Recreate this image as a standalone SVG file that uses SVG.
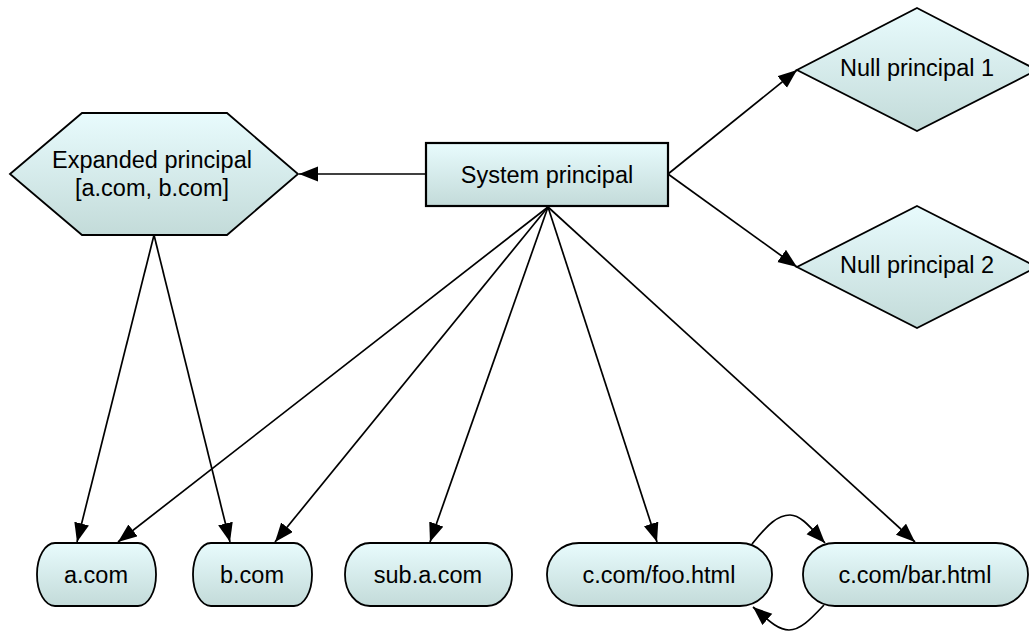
<svg xmlns="http://www.w3.org/2000/svg" width="1029" height="632" viewBox="0 0 1029 632">
<style>
.node{fill:url(#g);stroke:#000;stroke-width:1.8}
.lbl{font-family:"Liberation Sans",Arial,sans-serif;font-size:23.5px;fill:#000;text-anchor:middle}
.edge{fill:none;stroke:#000;stroke-width:1.7}
</style>
<defs>
<linearGradient id="g" x1="0" y1="0" x2="0" y2="1">
<stop offset="0" stop-color="#e8fbfd"/>
<stop offset="1" stop-color="#c3dbd9"/>
</linearGradient>
<marker id="ah" markerUnits="userSpaceOnUse" markerWidth="20" markerHeight="16" refX="19" refY="7.5" orient="auto">
<path d="M0,0 L19,7.5 L0,15 z" fill="#000"/>
</marker>
</defs>
<rect width="1029" height="632" fill="#fff"/>
<g id="connectors">
<line class="edge" x1="426" y1="174" x2="299" y2="174" marker-end="url(#ah)"/>
<line class="edge" x1="668" y1="174" x2="797" y2="70" marker-end="url(#ah)"/>
<line class="edge" x1="668" y1="174" x2="797" y2="267" marker-end="url(#ah)"/>
<line class="edge" x1="548" y1="207" x2="118" y2="542" marker-end="url(#ah)"/>
<line class="edge" x1="548" y1="207" x2="275" y2="542" marker-end="url(#ah)"/>
<line class="edge" x1="548" y1="207" x2="430" y2="542" marker-end="url(#ah)"/>
<line class="edge" x1="548" y1="207" x2="657" y2="542" marker-end="url(#ah)"/>
<line class="edge" x1="548" y1="207" x2="915" y2="542" marker-end="url(#ah)"/>
<line class="edge" x1="154" y1="235" x2="77" y2="542" marker-end="url(#ah)"/>
<line class="edge" x1="154" y1="235" x2="230" y2="542" marker-end="url(#ah)"/>
<path class="edge" d="M752,544 C768,524 778,515 790,515 C801,515 811,528 825,543" marker-end="url(#ah)"/>
<path class="edge" d="M824,605 C810,620 800,630 789,630 C778,630 768,620 753,607" marker-end="url(#ah)"/>
</g>
<g id="expanded">
<polygon class="node" points="10,174 82,113 227,113 298,174 227,235 82,235"/>
<text class="lbl" x="152" y="168">Expanded principal</text>
<text class="lbl" x="152" y="196">[a.com, b.com]</text>
</g>
<g id="system">
<rect class="node" x="426" y="143" width="242" height="63" style="stroke-width:2.2"/>
<text class="lbl" x="547" y="183">System principal</text>
</g>
<g id="null1">
<polygon class="node" points="917,8 1037,70 917,131 797,70"/>
<text class="lbl" x="917" y="76">Null principal 1</text>
</g>
<g id="null2">
<polygon class="node" points="917,206 1037,267 917,328 797,267"/>
<text class="lbl" x="917" y="273">Null principal 2</text>
</g>
<g id="acom">
<rect class="node" x="37" y="543" width="119" height="63" rx="18" ry="31"/>
<text class="lbl" x="96" y="583">a.com</text>
</g>
<g id="bcom">
<rect class="node" x="193" y="543" width="119" height="63" rx="18" ry="31"/>
<text class="lbl" x="252" y="583">b.com</text>
</g>
<g id="subacom">
<rect class="node" x="345" y="543" width="167" height="63" rx="25" ry="31"/>
<text class="lbl" x="428" y="583">sub.a.com</text>
</g>
<g id="foo">
<rect class="node" x="547" y="543" width="225" height="63" rx="32" ry="31"/>
<text class="lbl" x="659" y="583">c.com/foo.html</text>
</g>
<g id="bar">
<rect class="node" x="803" y="543" width="225" height="63" rx="32" ry="31"/>
<text class="lbl" x="915" y="583">c.com/bar.html</text>
</g>
</svg>
